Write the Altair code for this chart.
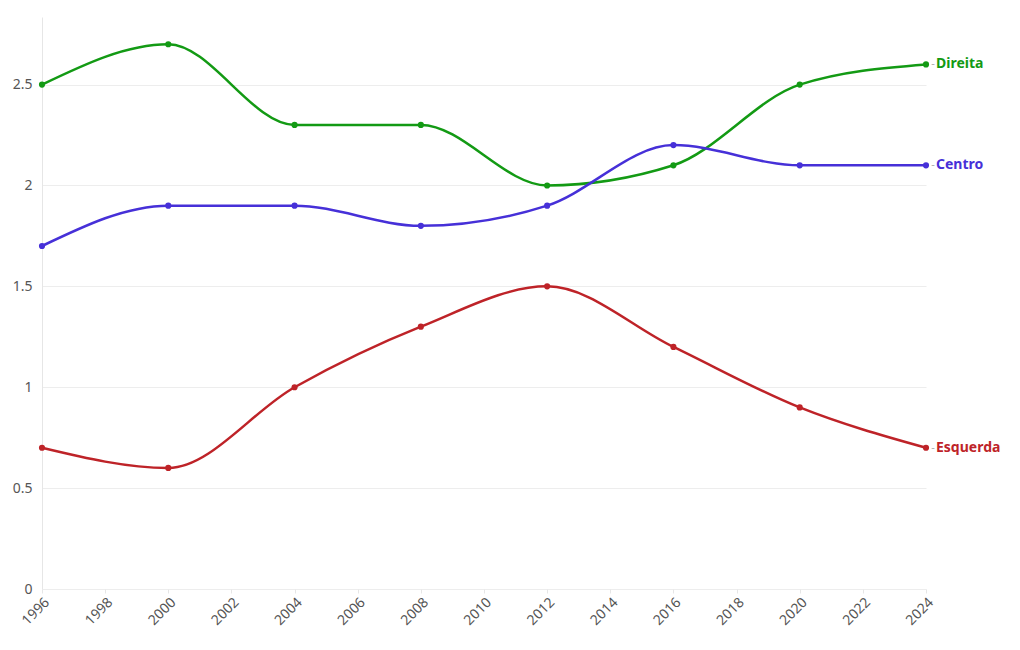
import altair as alt
import pandas as pd

years = [1996, 2000, 2004, 2008, 2012, 2016, 2020, 2024]
direita = [2.5, 2.7, 2.3, 2.3, 2.0, 2.1, 2.5, 2.6]
centro = [1.7, 1.9, 1.9, 1.8, 1.9, 2.2, 2.1, 2.1]
esquerda = [0.7, 0.6, 1.0, 1.3, 1.5, 1.2, 0.9, 0.7]
series_names = ["Direita", "Centro", "Esquerda"]
series_colors = ["#139a14", "#4630d8", "#be2328"]
x_ticks = list(range(1996, 2025, 2))
y_ticks = [0, 0.5, 1, 1.5, 2, 2.5]

rows = []
for name, vals in zip(series_names, [direita, centro, esquerda]):
    for y, v in zip(years, vals):
        rows.append({"ano": y, "valor": v, "serie": name})
df = pd.DataFrame(rows)

FONT = "Noto Sans"

x = alt.X("ano:Q", scale=alt.Scale(domain=[1996, 2024], nice=False, zero=False),
          axis=alt.Axis(values=x_ticks, format="d", labelAngle=-45, labelAlign="right",
                        labelBaseline="top", labelFontSize=14, labelColor="#555",
                        labelFont=FONT, grid=False, domain=False, ticks=True,
                        tickColor="#e6e6e6", tickSize=4, labelPadding=2, title=None))
y = alt.Y("valor:Q", scale=alt.Scale(domain=[0, 2.835], nice=False),
          axis=alt.Axis(values=y_ticks, format="~g", labelFontSize=14, labelColor="#555",
                        labelFont=FONT, grid=True, gridColor="#ededed", domain=True,
                        domainColor="#e6e6e6", ticks=False, labelPadding=10, title=None))
color = alt.Color("serie:N", scale=alt.Scale(domain=series_names, range=series_colors), legend=None)

base = alt.Chart(df).encode(x=x, y=y, color=color)
lines = base.mark_line(interpolate="monotone", strokeWidth=2.5)
points = base.mark_circle(size=38, opacity=1)
last = base.transform_filter(alt.datum.ano == 2024)
dash = last.mark_text(text="-", dx=7, align="center", baseline="middle", fontSize=11, font=FONT).encode(
    color=alt.value("#aaa"))
labels = last.mark_text(dx=10, align="left", baseline="middle", fontSize=14, fontWeight="bold", font=FONT).encode(
    text="serie:N")

chart = alt.layer(lines, points, dash, labels).properties(
    width=884, height=572,
    background="white",
    autosize=alt.AutoSizeParams(type="none"),
    padding={"left": 42, "top": 17, "right": 94, "bottom": 61},
).configure_view(stroke="transparent")

chart.save("out.html", embed_options={"renderer": "svg", "actions": False})
